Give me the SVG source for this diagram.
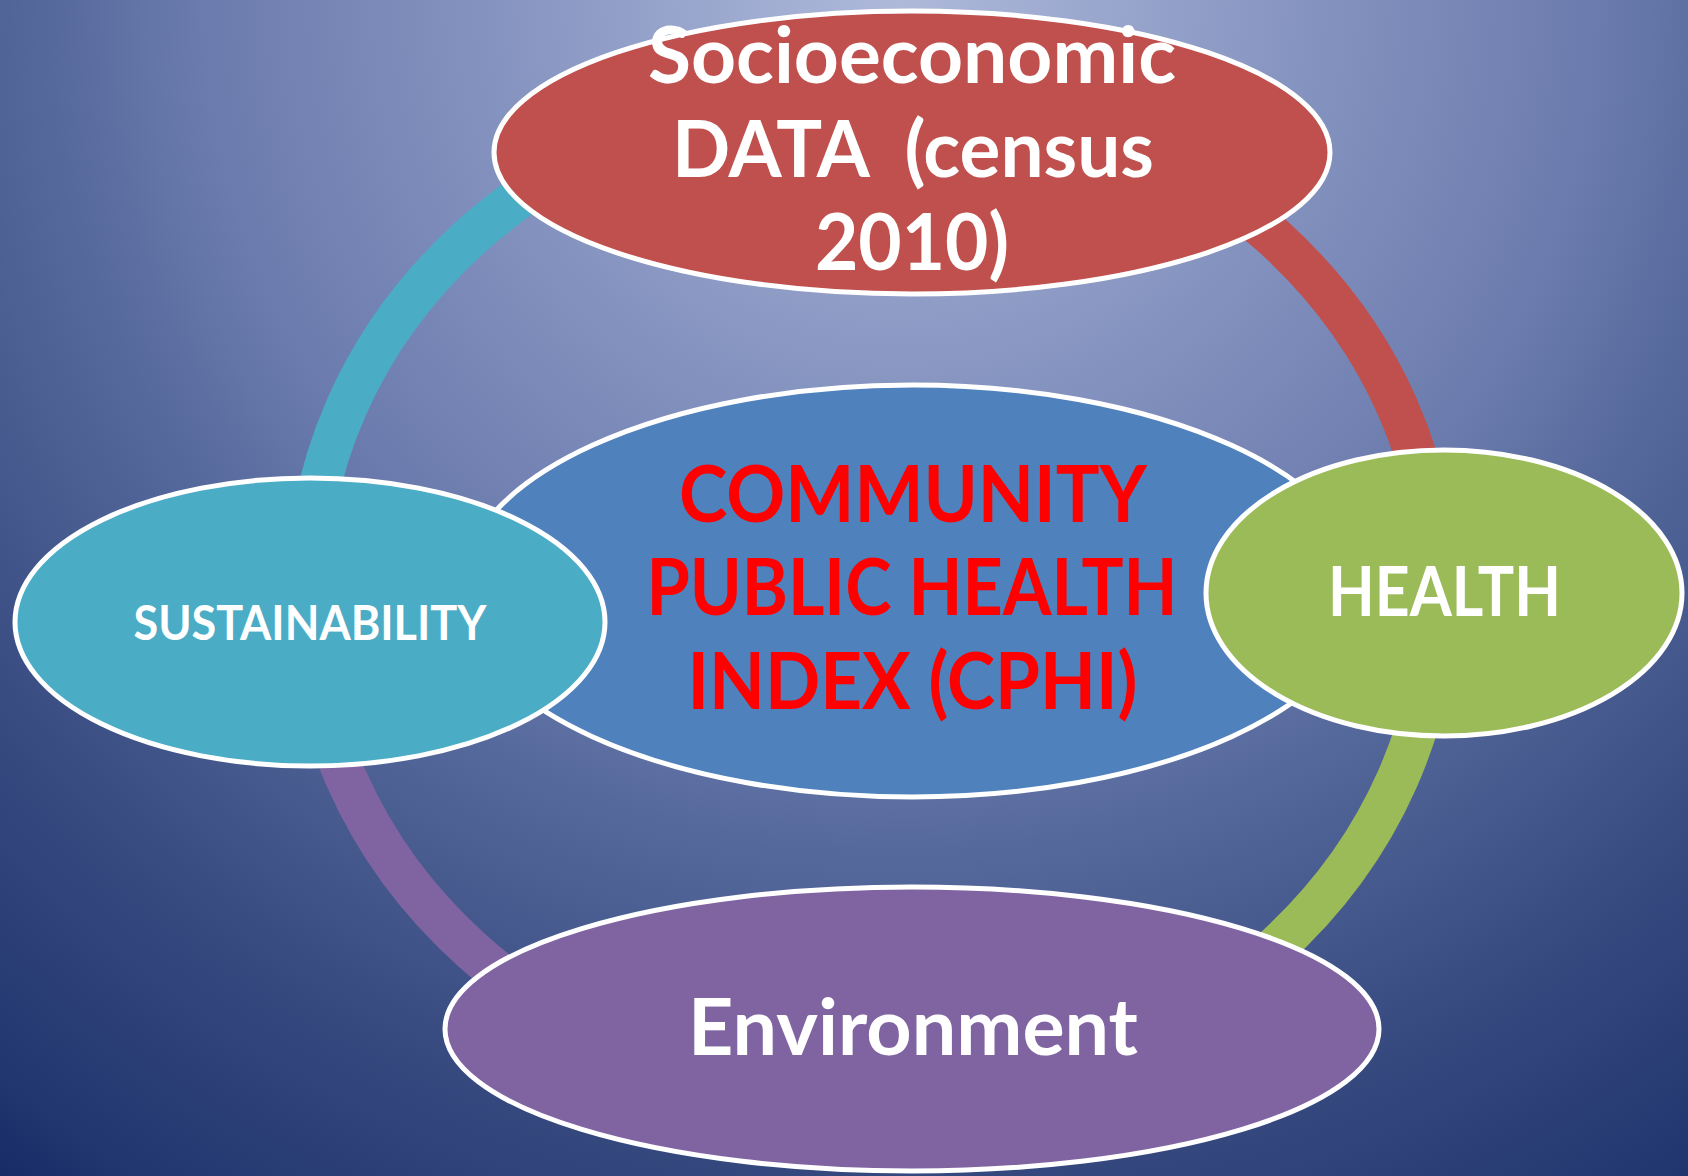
<svg xmlns="http://www.w3.org/2000/svg" width="1688" height="1176" viewBox="0 0 1688 1176">
  <defs>
    <radialGradient id="bg" gradientUnits="userSpaceOnUse" cx="900" cy="0" r="1550">
      <stop offset="0" stop-color="#aeb9da"/>
      <stop offset="0.25" stop-color="#8795c1"/>
      <stop offset="0.45" stop-color="#6b7bad"/>
      <stop offset="0.55" stop-color="#56699c"/>
      <stop offset="0.75" stop-color="#36497f"/>
      <stop offset="0.9" stop-color="#22376f"/>
      <stop offset="1" stop-color="#0e2262"/>
    </radialGradient>
    <style>
      .node { stroke: #ffffff; stroke-width: 5; }
      .ring { fill: none; stroke-width: 42; stroke-linecap: butt; }
      .lbl { font-family: Lato, "Open Sans", "Liberation Sans", sans-serif; font-weight: 700; text-anchor: middle; white-space: pre; }
      .white { fill: #ffffff; }
      .red { fill: #ff0000; }
    </style>
  </defs>

  <rect x="0" y="0" width="1688" height="1176" fill="url(#bg)"/>

  <!-- ring segments joining the outer nodes -->
  <g id="connectors">
    <path class="ring" stroke="#4bacc6" d="M 307 593 A 565 506 0 0 1 872 87"/>
    <path class="ring" stroke="#c0504d" d="M 872 87 A 565 506 0 0 1 1437 593"/>
    <path class="ring" stroke="#9bbb59" d="M 1437 593 A 565 506 0 0 1 872 1099"/>
    <path class="ring" stroke="#8064a2" d="M 872 1099 A 565 506 0 0 1 307 593"/>
  </g>

  <g id="node-socioeconomic">
    <ellipse class="node" cx="912" cy="152.5" rx="418" ry="141.5" fill="#c0504d"/>
    <text class="lbl white" font-size="78" x="912" y="83" textLength="528" lengthAdjust="spacingAndGlyphs">Socioeconomic</text>
    <text class="lbl white" font-size="78" x="913" y="177" textLength="482" lengthAdjust="spacingAndGlyphs">DATA  (census</text>
    <text class="lbl white" font-size="78" x="912" y="270" textLength="194" lengthAdjust="spacingAndGlyphs">2010)</text>
  </g>

  <g id="node-cphi">
    <ellipse class="node" cx="912" cy="591" rx="452" ry="206" fill="#4f81bd"/>
    <text class="lbl red" font-size="78" x="913" y="522" textLength="468" lengthAdjust="spacingAndGlyphs">COMMUNITY</text>
    <text class="lbl red" font-size="78" x="912" y="615" textLength="531" lengthAdjust="spacingAndGlyphs">PUBLIC HEALTH</text>
    <text class="lbl red" font-size="78" x="912.5" y="709" textLength="450" lengthAdjust="spacingAndGlyphs">INDEX (CPHI)</text>
  </g>

  <g id="node-sustainability">
    <ellipse class="node" cx="310" cy="622" rx="295" ry="144" fill="#4bacc6"/>
    <text class="lbl white" font-size="48" x="310" y="640" textLength="353" lengthAdjust="spacingAndGlyphs">SUSTAINABILITY</text>
  </g>

  <g id="node-health">
    <ellipse class="node" cx="1444" cy="593" rx="238" ry="143" fill="#9bbb59"/>
    <text class="lbl white" font-size="68" x="1444.5" y="616" textLength="233" lengthAdjust="spacingAndGlyphs">HEALTH</text>
  </g>

  <g id="node-environment">
    <ellipse class="node" cx="912" cy="1029" rx="467" ry="142" fill="#8064a2"/>
    <text class="lbl white" font-size="78" x="913" y="1055" textLength="450" lengthAdjust="spacingAndGlyphs">Environment</text>
  </g>
</svg>
